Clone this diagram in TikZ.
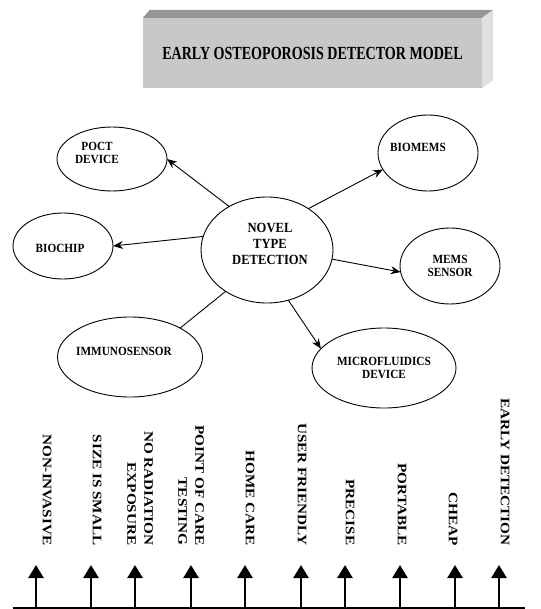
\documentclass[tikz,border=0pt]{standalone}
\usepackage{fontspec}
\setmainfont{Liberation Serif}
\newfontfamily\titlefont[FakeStretch=0.76]{Liberation Serif}
\newfontfamily\ovalfont[FakeStretch=0.9]{Liberation Serif}
\newfontfamily\sidefont[FakeStretch=1.17]{Liberation Serif}
\usetikzlibrary{arrows.meta,shapes.geometric}
\definecolor{boxfront}{RGB}{200,200,200}
\definecolor{boxtop}{RGB}{150,150,150}
\definecolor{boxside}{RGB}{224,224,224}

\begin{document}
\begin{tikzpicture}[x=1pt,y=1pt,
	oval/.style={ellipse,draw,line width=0.9pt,inner sep=0pt,outer sep=0pt}, % empty ellipse
	ovaltext/.style={align=center,font=\ovalfont\bfseries\fontsize{12.5}{13}\selectfont},
	link/.style={-{Stealth[length=10pt,width=8pt]},line width=0.9pt}, % arrow out of the centre
	goal/.style={-{Triangle[length=13pt,width=15pt]},line width=2.5pt},
	side/.style={rotate=-90,anchor=east,align=right,
		font=\sidefont\bfseries\fontsize{13}{17}\selectfont}]
	\useasboundingbox (0,0) rectangle (540,-609);
	% title block
	\node[fill=boxfront,minimum width=339,minimum height=70,inner sep=0pt,
		font=\titlefont\bfseries\fontsize{18.5}{20}\selectfont] (title) at (312.5,-53)
		{EARLY OSTEOPOROSIS DETECTOR MODEL};
	\fill[boxtop] (title.north west) -- ++(7,8) -- ([shift={(11,8)}]title.north east) -- (title.north east) -- cycle;
	\fill[boxside] (title.north east) -- ++(11,8) -- ([shift={(11,8)}]title.south east) -- (title.south east) -- cycle;
	% ellipses
	\node[oval,minimum width=132,minimum height=106,
		label={[ovaltext,font=\ovalfont\bfseries\fontsize{14}{16}\selectfont,xshift=3,yshift=6]center:{NOVEL\\TYPE\\DETECTION}}] (novel) at (267,-250) {};
	\node[oval,minimum width=110,minimum height=64,
		label={[ovaltext,xshift=-15,yshift=6]center:{POCT\\DEVICE}}] (poct) at (112,-159) {};
	\node[oval,minimum width=100,minimum height=76,
		label={[ovaltext,xshift=-10,yshift=6]center:BIOMEMS}] (biomems) at (428,-153) {};
	\node[oval,minimum width=100,minimum height=66,
		label={[ovaltext,xshift=-3,yshift=-2]center:BIOCHIP}] (biochip) at (63,-246) {};
	\node[oval,minimum width=100,minimum height=76,ovaltext] (mems) at (450,-266) {MEMS\\SENSOR};
	\node[oval,minimum width=145,minimum height=80,
		label={[ovaltext,xshift=-6,yshift=6]center:IMMUNOSENSOR}] (immuno) at (130,-357) {};
	\node[oval,minimum width=144,minimum height=80,ovaltext] (micro) at (384,-368) {MICROFLUIDICS\\DEVICE};
	% connectors
	\draw[link] (novel.131) -- (poct.0);
	\draw[link] (novel.45) -- (biomems.200);
	\draw[link] (novel.168) -- (biochip.0);
	\draw[link] (novel.-8) -- (mems.187);
	\draw[line width=0.9pt] (novel.225) -- (immuno.30);
	\draw[link] (novel.-67) -- (micro.163);
	% features
	\coordinate (base0) at (13,-608);
	\coordinate (base1) at (525,-608);
	\draw[line width=2pt] (base0) -- (base1);
	\foreach \x [count=\i] in {36,91,135,191,245,301,345,400,455,499} {
		\coordinate (foot\i) at (\x,-608);
		\coordinate (tip\i) at (\x,-565);
		\draw[goal] (foot\i) -- (tip\i);
	}
	\foreach \x/\t [count=\i] in {47/NON-INVASIVE,97/SIZE IS SMALL,
		140/{NO RADIATION\\EXPOSURE},191/{POINT OF CARE\\TESTING},
		250/HOME CARE,302/USER FRIENDLY,350/PRECISE,402/PORTABLE,
		453/CHEAP,505/EARLY DETECTION}
		\node[side] (feat\i) at (\x,-549) {\t};
\end{tikzpicture}
\end{document}
